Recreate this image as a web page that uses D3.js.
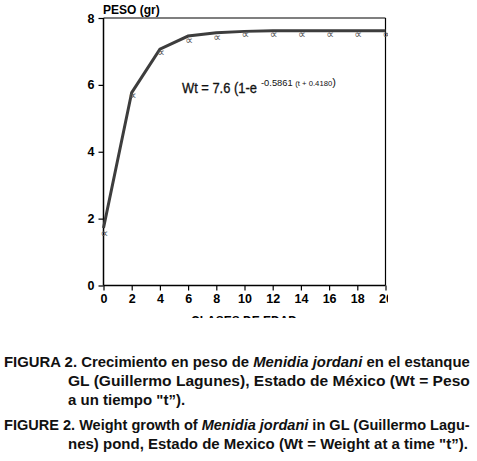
<!DOCTYPE html>
<html><head><meta charset="utf-8">
<script src="https://cdn.jsdelivr.net/npm/d3@7"></script>
<style>body{margin:0;background:#fff}svg{display:block}</style>
</head><body>
<script>
const ages = [0,2,4,6,8,10,12,14,16,18,20];
const observed = [1.57,5.67,6.96,7.34,7.43,7.52,7.52,7.52,7.52,7.52,7.52];
const fitted = [1.72,5.77,7.07,7.46,7.56,7.60,7.62,7.62,7.62,7.62,7.62];
const xTicks = [0,2,4,6,8,10,12,14,16,18,20];
const yTicks = [0,2,4,6,8];
const yTitle = "PESO (gr)";
const xTitle = "CLASES DE EDAD";
const captionLines = [
  {x:4, y:367, justify:true, segs:[["FIGURA 2. Crecimiento en peso de ",0],["Menidia jordani",1],[" en el estanque",0]]},
  {x:68, y:386, justify:true, segs:[["GL (Guillermo Lagunes), Estado de México (Wt = Peso",0]]},
  {x:68, y:405, justify:false, segs:[["a un tiempo \"t”).",0]]},
  {x:4, y:430, justify:true, segs:[["FIGURE 2. Weight growth of ",0],["Menidia jordani",1],[" in GL (Guillermo Lagu-",0]]},
  {x:68, y:449, justify:false, segs:[["nes) pond, Estado de Mexico (Wt = Weight at a time \"t”).",0]]}
];

const W=477,H=461;
const svg=d3.select("body").append("svg").attr("width",W).attr("height",H);
const x=d3.scaleLinear().domain([0,20]).range([103.5,385.5]);
const y=d3.scaleLinear().domain([0,8]).range([285.5,18]);

const defs=svg.append("defs");
defs.append("clipPath").attr("id","chartclip").append("rect").attr("x",0).attr("y",0).attr("width",388).attr("height",318);
const g=svg.append("g").attr("clip-path","url(#chartclip)");

g.append("line").attr("x1",x(0)).attr("x2",x(20)).attr("y1",y(8)).attr("y2",y(8)).attr("stroke","#000").attr("stroke-width",1.2);
g.append("line").attr("x1",x(20)).attr("x2",x(20)).attr("y1",y(8)).attr("y2",y(0)).attr("stroke","#000").attr("stroke-width",1.2);

const fontT="'Liberation Sans',Arial,sans-serif";
const xAxis=d3.axisBottom(x).tickValues(xTicks).tickSize(5).tickPadding(4).tickFormat(d3.format("d"));
const yAxis=d3.axisLeft(y).tickValues(yTicks).tickSize(5).tickPadding(4).tickFormat(d3.format("d"));
const gx=g.append("g").attr("transform",`translate(0,${y(0)})`).call(xAxis);
const gy=g.append("g").attr("transform",`translate(${x(0)},0)`).call(yAxis);
[gx,gy].forEach(a=>{
  a.select(".domain").attr("stroke","#000").attr("stroke-width",1.5);
  a.selectAll(".tick line").attr("stroke","#000").attr("stroke-width",1.2);
  a.selectAll("text").attr("font-family",fontT).attr("font-weight","bold").attr("font-size",12.5).attr("fill","#000");
});
gx.select(".domain").attr("d",`M${x(0)},0H${x(20)}`);
gy.select(".domain").attr("d",`M0,${y(0)}V${y(8)}`);

g.append("text").attr("x",103).attr("y",14).attr("font-family",fontT).attr("font-weight","bold").attr("font-size",12).text(yTitle);
g.append("text").attr("x",244).attr("y",325).attr("text-anchor","middle").attr("font-family",fontT).attr("font-weight","bold").attr("font-size",12).text(xTitle);

g.append("path").datum(ages.map((a,i)=>[a,fitted[i]]))
  .attr("d",d3.line().x(d=>x(d[0])).y(d=>y(d[1])))
  .attr("fill","none").attr("stroke","#3d3d3d").attr("stroke-width",3).attr("stroke-linejoin","miter");

g.selectAll("text.obs").data(ages.map((a,i)=>[a,observed[i]])).enter().append("text")
  .attr("class","obs").attr("x",d=>x(d[0])+1).attr("y",d=>y(d[1])+3.5)
  .attr("text-anchor","middle").attr("font-family","'DejaVu Sans',sans-serif").attr("font-size",11).attr("fill","#555").text("∝");

const eq=g.append("text").attr("x",182).attr("y",93.5).attr("font-family",fontT).attr("fill","#111").attr("stroke","#111").attr("stroke-width",0.3);
eq.append("tspan").attr("font-size",14).text("Wt = 7.6 (1-e");
const eq2=g.append("text").attr("x",261).attr("y",86).attr("font-family",fontT).attr("fill","#111");
eq2.append("tspan").attr("font-size",8.5).text("-0.5861 ");
eq2.append("tspan").attr("font-size",7).text("(t + 0.4180");
eq2.append("tspan").attr("font-size",10).text(")");
(function(){
  const w1=eq.node().getComputedTextLength();
  eq.attr("transform",`translate(182,0) scale(${75/w1},1) translate(-182,0)`);
  const w2=eq2.node().getComputedTextLength();
  eq2.attr("transform",`translate(261,0) scale(${75/w2},1) translate(-261,0)`);
})();

const cap=svg.append("g");
let scales=[];
const targetRight=470;
captionLines.forEach(L=>{
  const t=cap.append("text").attr("x",0).attr("y",0).attr("font-family",fontT).attr("font-weight","bold").attr("font-size",14.5).attr("fill","#111");
  L.segs.forEach(s=>t.append("tspan").attr("font-style",s[1]?"italic":"normal").text(s[0]));
  L.node=t;
  L.w=t.node().getComputedTextLength();
  if(L.justify){L.s=(targetRight-L.x)/L.w; scales.push(L.s);}
});
const avg=d3.mean(scales);
captionLines.forEach(L=>{
  const s=L.justify?L.s:avg;
  L.node.attr("transform",`translate(${L.x},${L.y}) scale(${s},1)`);
});
</script>
</body></html>
